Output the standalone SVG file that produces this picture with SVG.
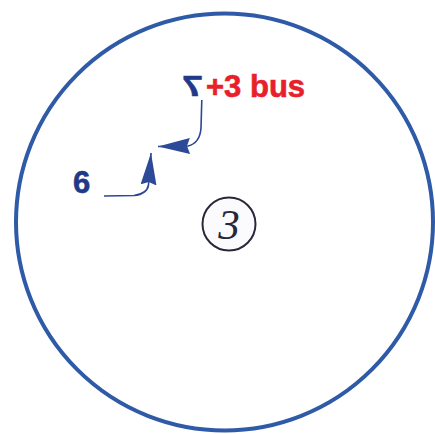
<svg xmlns="http://www.w3.org/2000/svg" width="435" height="434" viewBox="0 0 435 434">
<style>
.navy{fill:#1f3a88;stroke:#1f3a88;stroke-width:0.6;font-family:"Liberation Sans",Arial,sans-serif;font-weight:bold}
.red{fill:#e8202a;stroke:#e8202a;stroke-width:0.6;font-family:"Liberation Sans",Arial,sans-serif;font-weight:bold}
.conn{fill:none;stroke:#2b4795;stroke-width:1.6}
</style>
<defs>
<marker id="ah" viewBox="0 0 32 16" refX="32" refY="8" markerWidth="32" markerHeight="16" markerUnits="userSpaceOnUse" orient="auto">
<path d="M0,0 L32,8 L0,16 L3,8 z" fill="#2d4a98"/>
</marker>
</defs>
<rect width="435" height="434" fill="#ffffff"/>
<g id="boundary">
<circle cx="224.5" cy="222" r="208.5" fill="none" stroke="#2e5aa8" stroke-width="4"/>
</g>
<g id="center-3">
<circle cx="229" cy="224" r="26.5" fill="#fbfbfd" stroke="#26283a" stroke-width="2"/>
<text x="229" y="239" text-anchor="middle" font-family="Liberation Serif,serif" font-style="italic" font-size="43" fill="#26283a">3</text>
</g>
<g id="label-7">
<text class="navy" font-size="30" transform="translate(203,96) scale(-1.25,1)">7</text>
</g>
<g id="label-bus">
<text class="red" x="206" y="97" font-size="31">+3 bus</text>
</g>
<g id="label-6">
<text class="navy" x="73" y="193" font-size="31">6</text>
</g>
<g id="connectors">
<path class="conn" d="M201.8,100 L201,128 Q200,143 188,146 L158,146.5" marker-end="url(#ah)"/>
<path class="conn" d="M104,196 L134,195.5 Q147,194 148.5,185 L151,153" marker-end="url(#ah)"/>
</g>
</svg>
